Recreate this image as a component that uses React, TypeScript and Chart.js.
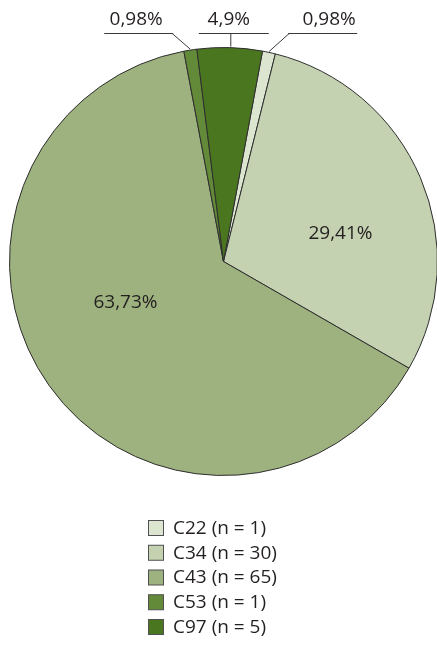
import React, { useEffect, useRef } from "react";
import { Chart, registerables } from "chart.js";

Chart.register(...registerables);

const categories = ["C22", "C34", "C43", "C53", "C97"];
const counts = [1, 30, 65, 1, 5];
const percentLabels = ["0,98%", "29,41%", "63,73%", "0,98%", "4,9%"];
const colors = ["#dce5d0", "#c5d2b1", "#9eb27f", "#638a38", "#4b7620"];

const FONT = '"Open Sans", "Noto Sans", sans-serif';
const TEXT = "#231f20";

const labelPlugin = {
  id: "pieLabels",
  afterDatasetsDraw(chart: any) {
    const ctx = chart.ctx;
    const meta = chart.getDatasetMeta(0);
    ctx.save();
    ctx.font = `19px ${FONT}`;
    ctx.fillStyle = TEXT;
    ctx.strokeStyle = "#3a3a3a";
    ctx.lineWidth = 1;
    ctx.textAlign = "center";
    ctx.textBaseline = "alphabetic";
    const elbowY = 33.5;
    const textY = 25;
    meta.data.forEach((arc: any, i: number) => {
      const p = arc.getProps(["x", "y", "startAngle", "endAngle", "outerRadius"], true);
      const mid = (p.startAngle + p.endAngle) / 2;
      const ax = p.x + Math.cos(mid) * (p.outerRadius + 1);
      const ay = p.y + Math.sin(mid) * (p.outerRadius + 1);
      const txt = percentLabels[i];
      if (i === 0) {
        const ex = ax + 20;
        ctx.beginPath();
        ctx.moveTo(ax, ay);
        ctx.lineTo(ex, elbowY);
        ctx.moveTo(ex - 1, elbowY);
        ctx.lineTo(ex + 68, elbowY);
        ctx.stroke();
        ctx.fillText(txt, ex + 40, textY);
      } else if (i === 3) {
        const ex = ax - 18;
        ctx.beginPath();
        ctx.moveTo(ax, ay);
        ctx.lineTo(ex, elbowY);
        ctx.moveTo(ex + 1, elbowY);
        ctx.lineTo(ex - 68, elbowY);
        ctx.stroke();
        ctx.fillText(txt, ex - 36, textY);
      } else if (i === 4) {
        const ex = ax + 1;
        ctx.beginPath();
        ctx.moveTo(ex, ay);
        ctx.lineTo(ex, elbowY);
        ctx.moveTo(ex - 32, elbowY);
        ctx.lineTo(ex + 38, elbowY);
        ctx.stroke();
        ctx.fillText(txt, ex - 2, textY);
      } else if (i === 1) {
        ctx.textBaseline = "middle";
        ctx.fillText(txt, p.x + 117, p.y - 28);
        ctx.textBaseline = "alphabetic";
      } else if (i === 2) {
        ctx.textBaseline = "middle";
        ctx.fillText(txt, p.x - 98, p.y + 41);
        ctx.textBaseline = "alphabetic";
      }
    });
    ctx.restore();
  },
};

const legendPlugin = {
  id: "customLegend",
  afterDraw(chart: any) {
    const ctx = chart.ctx;
    ctx.save();
    ctx.font = `19px ${FONT}`;
    ctx.textAlign = "left";
    ctx.textBaseline = "middle";
    const bx = 148.5;
    const top0 = 520.5;
    const step = 24.75;
    const size = 15;
    categories.forEach((c, i) => {
      const y = top0 + i * step;
      ctx.fillStyle = colors[i];
      ctx.fillRect(bx, y, size, size);
      ctx.strokeStyle = "#505050";
      ctx.lineWidth = 1;
      ctx.strokeRect(bx, y, size, size);
      ctx.fillStyle = TEXT;
      ctx.fillText(`${c} (n = ${counts[i]})`, 173, y + size / 2 + 0.5);
    });
    ctx.restore();
  },
};

export default function App() {
  const ref = useRef<HTMLCanvasElement | null>(null);
  useEffect(() => {
    if (!ref.current) return;
    const chart = new Chart(ref.current, {
      type: "pie",
      data: {
        labels: categories,
        datasets: [
          {
            data: counts,
            backgroundColor: colors,
            borderColor: "#2e2e2e",
            borderWidth: 1,
          },
        ],
      },
      options: {
        responsive: false,
        animation: false,
        rotation: 10.5,
        radius: 214,
        layout: { padding: { left: 10, right: 0, top: 47, bottom: 182 } },
        plugins: {
          legend: { display: false },
          tooltip: { enabled: false },
        },
      },
      plugins: [labelPlugin, legendPlugin],
    });
    return () => chart.destroy();
  }, []);
  return (
    <div style={{ position: "fixed", left: 0, top: 0, width: 437, height: 658, background: "#fff" }}>
      <canvas ref={ref} width={437} height={658} style={{ width: 437, height: 658 }} />
    </div>
  );
}
